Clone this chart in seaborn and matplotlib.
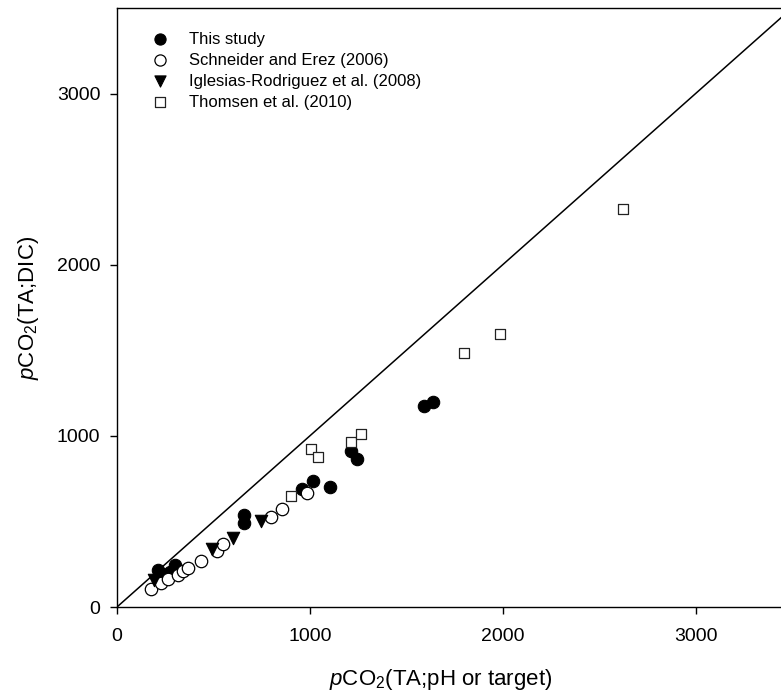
import numpy as np
import matplotlib
matplotlib.use("Agg")
import matplotlib.pyplot as plt
import pandas as pd
import seaborn as sns

# values (x = pCO2 from TA;pH or target, y = pCO2 from TA;DIC)
this_x = [214, 235, 274, 300, 660, 660, 961, 1016, 1102, 1214, 1245, 1590, 1640]
this_y = [216, 195, 206, 246, 535, 489, 688, 737, 702, 914, 864, 1175, 1200]

schneider_x = [176, 228, 266, 317, 343, 369, 438, 516, 550, 800, 855, 984]
schneider_y = [104, 142, 162, 187, 211, 226, 270, 325, 370, 528, 575, 665]

iglesias_x = [190, 490, 602, 745]
iglesias_y = [155, 340, 405, 500]

thomsen_x = [904, 1007, 1041, 1211, 1264, 1798, 1984, 2625]
thomsen_y = [649, 922, 875, 965, 1008, 1485, 1596, 2327]

labels = ["This study", "Schneider and Erez (2006)",
          "Iglesias-Rodriguez et al. (2008)", "Thomsen et al. (2010)"]
ticks = [0, 1000, 2000, 3000]
ax_max = 3500

sns.set_theme(style="white")
plt.rcParams['font.family'] = ['Liberation Sans', 'DejaVu Sans']
plt.rcParams['mathtext.fontset'] = 'custom'
plt.rcParams['mathtext.rm'] = 'Liberation Sans'
plt.rcParams['mathtext.it'] = 'Liberation Sans:italic'
for key in ['text.color', 'axes.labelcolor', 'xtick.color', 'ytick.color']:
    plt.rcParams[key] = 'black'

fig = plt.figure(figsize=(7.81, 6.95), dpi=100)
ax = fig.add_axes([117 / 781, 1 - 607 / 695, 675 / 781, 599 / 695])

# 1:1 line
ax.axline((0, 0), slope=1, color='black', lw=1.1, zorder=1)

sns.scatterplot(x=this_x, y=this_y, ax=ax, marker='o', s=80, color='black',
                edgecolor='black', linewidth=0.8, label=labels[0], zorder=3)
sns.scatterplot(x=schneider_x, y=schneider_y, ax=ax, marker='o', s=80, color='white',
                edgecolor='black', linewidth=0.9, label=labels[1], zorder=3)
sns.scatterplot(x=iglesias_x, y=iglesias_y, ax=ax, marker='v', s=80, color='black',
                edgecolor='black', linewidth=0.8, label=labels[2], zorder=3)
sns.scatterplot(x=thomsen_x, y=thomsen_y, ax=ax, marker='s', s=55, color='white',
                edgecolor='#222222', linewidth=0.9, label=labels[3], zorder=3)

ax.set_xlim(0, ax_max)
ax.set_ylim(0, ax_max)
ax.set_xticks(ticks)
ax.set_yticks(ticks)
ax.tick_params(direction='out', length=5, width=1, labelsize=14, color='black',
               bottom=True, left=True)
ax.tick_params(axis='x', pad=10)
ax.tick_params(axis='y', pad=7)
for sp in ax.spines.values():
    sp.set_color('black')
    sp.set_linewidth(1)

ax.set_xlabel(r'$p$CO$_2$(TA;pH or target)', fontsize=16)
ax.set_ylabel(r'$p$CO$_2$(TA;DIC)', fontsize=16)
ax.xaxis.set_label_coords(0.48, -0.101)
ax.yaxis.set_label_coords(-0.112, 0.5)

ax.legend(loc='upper left', bbox_to_anchor=(0.022, 0.98), frameon=False,
          fontsize=12, handletextpad=0.75, labelspacing=0.36, borderaxespad=0.3,
          markerscale=0.9)

fig.savefig('out.png', dpi=100)
